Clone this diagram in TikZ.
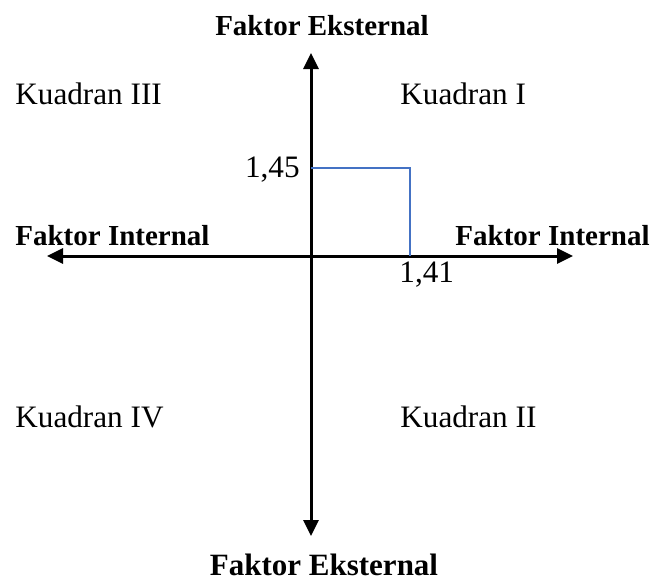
\documentclass[tikz,border=0pt]{standalone}
\usepackage{fontspec}
\setmainfont{Liberation Serif}
\usetikzlibrary{arrows.meta}
\definecolor{valblue}{HTML}{4472C4}

\begin{document}
\begin{tikzpicture}[
  x=0.5pt, y=-0.5pt,
  txt/.style={font=\fontsize{15.6}{18}\selectfont, text=black, inner sep=0pt},
  hd/.style={font=\fontsize{14.5}{18}\selectfont\bfseries, text=black, inner sep=0pt},
  axis/.style={-{Triangle[length=8pt, width=7.5pt]}, line width=1.5pt, draw=black},
  val/.style={line width=0.8pt, draw=valblue},
]
\useasboundingbox (0,0) rectangle (667,580);

%% ============ axes ============
\coordinate (o) at (311,256);
\coordinate (up) at (311,53);
\coordinate (dn) at (311,536);
\coordinate (lt) at (47,256);
\coordinate (rt) at (573,256);
\draw[axis] (o) -- (up);
\draw[axis] (o) -- (dn);
\draw[axis] (o) -- (lt);
\draw[axis] (o) -- (rt);

%% ============ axis titles ============
\node[hd, anchor=base] (eup) at (322,35) {Faktor Eksternal};
\node[hd, font=\fontsize{15.5}{18}\selectfont\bfseries, anchor=base] (edn) at (324,575) {Faktor Eksternal};
\node[hd, anchor=base west] (ilt) at (15,245) {Faktor Internal};
\node[hd, anchor=base east] (irt) at (650,245) {Faktor Internal};

%% ============ quadrants ============
\node[txt, anchor=base west] (q3) at (15,104) {Kuadran III};
\node[txt, anchor=base west] (q1) at (400,104) {Kuadran I};
\node[txt, anchor=base west] (q4) at (15,427) {Kuadran IV};
\node[txt, anchor=base west] (q2) at (400,427) {Kuadran II};

%% ============ point ============
\coordinate (py) at (311,168);
\coordinate (px) at (410,256);
\coordinate (pt) at (410,168);
\draw[val] (py) -- (pt) -- (px);
\node[txt, anchor=base east] (vy) at (300,177) {1,45};
\node[txt, anchor=base west] (vx) at (399,282) {1,41};

\end{tikzpicture}
\end{document}
